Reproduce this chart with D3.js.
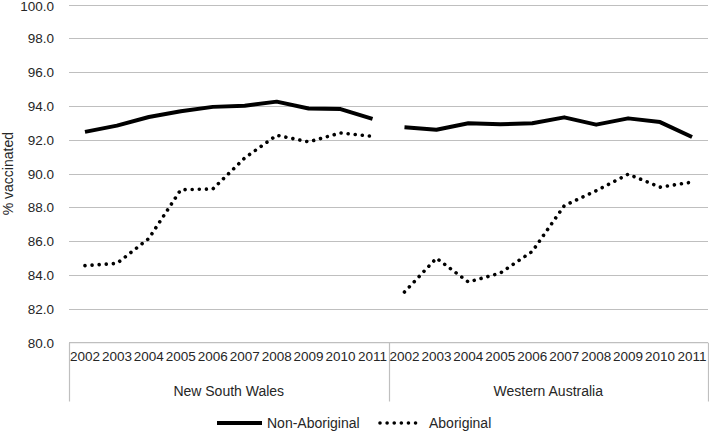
<!DOCTYPE html>
<html>
<head>
<meta charset="utf-8">
<script src="https://cdn.jsdelivr.net/npm/d3@7/dist/d3.min.js"></script>
<style>
  html, body { margin: 0; padding: 0; background: #fff; }
  svg { display: block; }
  text { font-family: "Liberation Sans", Arial, sans-serif; fill: #262626; }
</style>
</head>
<body>
<svg id="chart" width="709" height="431"></svg>
<script>
const groups = ["New South Wales", "Western Australia"];
const years = ["2002","2003","2004","2005","2006","2007","2008","2009","2010","2011"];
const nswNonAboriginal = [92.47, 92.84, 93.35, 93.69, 93.95, 94.02, 94.26, 93.85, 93.82, 93.24];
const nswAboriginal    = [84.56, 84.69, 86.17, 89.05, 89.09, 90.93, 92.27, 91.88, 92.41, 92.21];
const waNonAboriginal  = [92.74, 92.6, 92.98, 92.92, 92.98, 93.33, 92.9, 93.27, 93.05, 92.17];
const waAboriginal     = [83.0, 85.0, 83.59, 84.12, 85.4, 88.1, 88.99, 89.97, 89.2, 89.5];
const yTicks = [80, 82, 84, 86, 88, 90, 92, 94, 96, 98, 100];
const seriesNames = ["Non-Aboriginal", "Aboriginal"];

const svg = d3.select("#chart");
const pLeft = 69, pRight = 708, pTop = 4.6, pBottom = 342.7;

const y = d3.scaleLinear().domain([80, 100]).range([pBottom, pTop]);
const xg = d3.scaleBand().domain(groups).range([pLeft, pRight]).padding(0);
const xy = d3.scaleBand().domain(years).range([0, xg.bandwidth()]).padding(0);

// gridlines
svg.append("g").selectAll("line").data(yTicks.filter(t => t > 80)).join("line")
  .attr("x1", pLeft).attr("x2", pRight)
  .attr("y1", d => Math.round(y(d)) + 0.5).attr("y2", d => Math.round(y(d)) + 0.5)
  .attr("stroke", "#bfbfbf").attr("stroke-width", 1.2);

// y tick labels
svg.append("g").selectAll("text").data(yTicks).join("text")
  .attr("x", 54).attr("y", d => Math.max(y(d), 5.8)).attr("dy", "0.36em")
  .attr("text-anchor", "end").attr("font-size", 13.5)
  .text(d => d.toFixed(1));

// y axis title
svg.append("text")
  .attr("transform", `translate(13,${(pTop + pBottom) / 2}) rotate(-90)`)
  .attr("text-anchor", "middle").attr("font-size", 14)
  .text("% vaccinated");

// x axis frame
const axisBottom = 401.5;
svg.append("line").attr("x1", pLeft).attr("x2", pRight)
  .attr("y1", pBottom).attr("y2", pBottom).attr("stroke", "#bfbfbf").attr("stroke-width", 1.2);
const seps = [pLeft, xg(groups[1]), pRight];
svg.append("g").selectAll("line").data(seps).join("line")
  .attr("x1", d => Math.round(d) + 0.5).attr("x2", d => Math.round(d) + 0.5)
  .attr("y1", pBottom).attr("y2", axisBottom)
  .attr("stroke", "#bfbfbf").attr("stroke-width", 1.2);

// year labels + group labels
groups.forEach(g => {
  const gx = xg(g);
  svg.append("g").selectAll("text").data(years).join("text")
    .attr("x", d => gx + xy(d) + xy.bandwidth() / 2)
    .attr("y", 361).attr("text-anchor", "middle").attr("font-size", 13.5)
    .text(d => d);
  svg.append("text").attr("x", gx + xg.bandwidth() / 2).attr("y", 396)
    .attr("text-anchor", "middle").attr("font-size", 14).text(g);
});

// lines
const data = {
  "New South Wales": [nswNonAboriginal, nswAboriginal],
  "Western Australia": [waNonAboriginal, waAboriginal]
};
const styles = [
  { width: 4, dash: null, cap: "butt" },
  { width: 3.6, dash: "0.01 7.1", cap: "round" }
];
groups.forEach(g => {
  const gx = xg(g);
  const line = d3.line()
    .x((d, i) => gx + xy(years[i]) + xy.bandwidth() / 2)
    .y(d => y(d))
    .curve(d3.curveLinear);
  data[g].forEach((vals, si) => {
    const p = svg.append("path").datum(vals).attr("d", line)
      .attr("fill", "none").attr("stroke", "#000")
      .attr("stroke-width", styles[si].width)
      .attr("stroke-linecap", styles[si].cap)
      .attr("stroke-linejoin", "round");
    if (styles[si].dash) p.attr("stroke-dasharray", styles[si].dash);
  });
});

// legend
const ly = 423;
const legendItems = [
  { x1: 217, x2: 262, tx: 267 },
  { x1: 380, x2: 422, tx: 429 }
];
legendItems.forEach((it, i) => {
  const l = svg.append("line").attr("x1", it.x1).attr("x2", it.x2)
    .attr("y1", ly).attr("y2", ly).attr("stroke", "#000")
    .attr("stroke-width", styles[i].width).attr("stroke-linecap", styles[i].cap);
  if (styles[i].dash) l.attr("stroke-dasharray", styles[i].dash);
  svg.append("text").attr("x", it.tx).attr("y", ly).attr("dy", "0.35em")
    .attr("font-size", 14).text(seriesNames[i]);
});
</script>
</body>
</html>
